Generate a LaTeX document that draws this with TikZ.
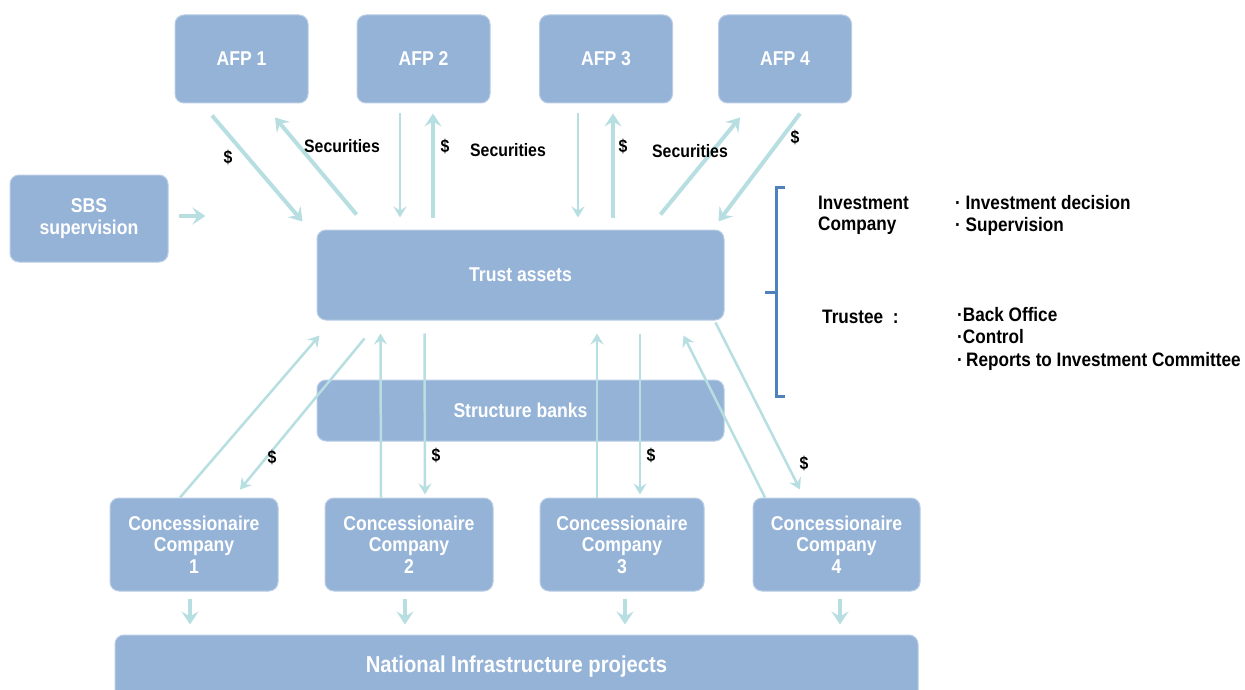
\documentclass[tikz,border=0pt]{standalone}
\usepackage{fontspec}
\setmainfont{Liberation Sans}[FakeStretch=0.88]
\usetikzlibrary{arrows.meta,calc}
\definecolor{boxblue}{HTML}{95B3D7}
\definecolor{boxedge}{HTML}{B9CDE5}
\definecolor{arrcyan}{HTML}{B7DEE0}
\definecolor{brblue}{HTML}{4F81BD}
\tikzset{
 box/.style={rectangle, rounded corners=9pt, fill=boxblue, draw=boxedge, line width=1pt, text=white,
   font=\bfseries\fontsize{20}{21.5}\selectfont, align=center, inner sep=0pt},
 fatarr/.style={draw=arrcyan, line width=4pt, -{Stealth[length=13pt,width=17pt,inset=5pt]}},
 slimarr/.style={draw=arrcyan, line width=2.5pt, -{Stealth[length=11pt,width=13pt,inset=4pt]}},
 lbl/.style={font=\bfseries\fontsize{18}{19}\selectfont, text=black, inner sep=0pt},
 side/.style={font=\bfseries\fontsize{19.5}{21}\selectfont, text=black, anchor=west, align=left, inner sep=0pt},
}
\begin{document}
\begin{tikzpicture}[x=1pt,y=-1pt]
\useasboundingbox (0,0) rectangle (1245,690);
\clip (0,0) rectangle (1245,690);
% boxes
\node[box, minimum width=133pt, minimum height=88pt] (afp1) at (241.5,59) {AFP 1};
\node[box, minimum width=133pt, minimum height=88pt] (afp2) at (423.5,59) {AFP 2};
\node[box, minimum width=133pt, minimum height=88pt] (afp3) at (606,59) {AFP 3};
\node[box, minimum width=133pt, minimum height=88pt] (afp4) at (785,59) {AFP 4};
\node[box, minimum width=158pt, minimum height=87pt] (sbs) at (89,218.5) {SBS\\supervision};
\node[box, minimum width=407pt, minimum height=90pt] (trust) at (520.5,275) {Trust assets};
\node[box, minimum width=407pt, minimum height=61pt] (banks) at (520.5,410.5) {Structure banks};
\node[box, minimum width=168pt, minimum height=93pt] (cc1) at (194,544.5) {Concessionaire\\Company\\1};
\node[box, minimum width=168pt, minimum height=93pt] (cc2) at (409,544.5) {Concessionaire\\Company\\2};
\node[box, minimum width=164pt, minimum height=93pt] (cc3) at (622,544.5) {Concessionaire\\Company\\3};
\node[box, minimum width=167pt, minimum height=93pt] (cc4) at (836.5,544.5) {Concessionaire\\Company\\4};
\node[box, minimum width=803pt, minimum height=64pt, font=\bfseries\fontsize{23}{24}\selectfont] (nat) at (516.5,667) {National Infrastructure projects};
% top arrows
\draw[fatarr] ($(afp1.south)+(-29.5,12)$) -- ($(trust.north west)+(-14,-8)$);
\draw[fatarr] ($(trust.north west)+(40,-15)$) -- ($(afp1.south)+(33.5,14)$);
\draw[slimarr] ($(afp2.south)+(-23.5,10)$) -- ($(trust.north)+(-120.5,-12)$);
\draw[fatarr] ($(trust.north)+(-87.5,-12)$) -- ($(afp2.south)+(9.5,10)$);
\draw[slimarr] ($(afp3.south)+(-28,10)$) -- ($(trust.north)+(57.5,-12)$);
\draw[fatarr] ($(trust.north)+(92.5,-12)$) -- ($(afp3.south)+(7,10)$);
\draw[fatarr] ($(trust.north east)+(-64,-15)$) -- ($(afp4.south)+(-45,14)$);
\draw[fatarr] ($(afp4.south)+(15,10)$) -- ($(trust.north east)+(-6,-8)$);
\draw[fatarr] ($(sbs.east)+(10,-2.5)$) -- ($(sbs.east)+(37,-2.5)$);
% bottom arrows
\draw[slimarr] ($(cc1.north)+(-14,0)$) -- ($(trust.south west)+(3,15)$);
\draw[slimarr] ($(trust.south west)+(48,18)$) -- ($(cc1.north)+(46,-8)$);
\draw[slimarr] ($(cc2.north)+(-28,0)$) -- ($(trust.south west)+(64,13)$);
\draw[slimarr] ($(trust.south west)+(108,13)$) -- ($(cc2.north)+(16,-3)$);
\draw[slimarr] ($(cc3.north)+(-25,0)$) -- ($(trust.south)+(76.5,13)$);
\draw[slimarr] ($(trust.south)+(119.5,13)$) -- ($(cc3.north)+(18,-3)$);
\draw[slimarr] ($(cc4.north)+(-71.5,0)$) -- ($(trust.south east)+(-41,15)$);
\draw[slimarr] ($(trust.south east)+(-9,2)$) -- ($(cc4.north)+(-36.5,-8)$);
% to national
\draw[fatarr] ($(cc1.south)+(-4,7)$) -- ($(cc1.south |- nat.north)+(-4,-10)$);
\draw[fatarr] ($(cc2.south)+(-4,7)$) -- ($(cc2.south |- nat.north)+(-4,-10)$);
\draw[fatarr] ($(cc3.south)+(3,7)$) -- ($(cc3.south |- nat.north)+(3,-10)$);
\draw[fatarr] ($(cc4.south)+(3.5,7)$) -- ($(cc4.south |- nat.north)+(3.5,-10)$);
% labels
\node[lbl] (d1) at (228,157) {\$};
\node[lbl] (s1) at (342,146) {Securities};
\node[lbl] (d2) at (445,146) {\$};
\node[lbl] (s2) at (508,150) {Securities};
\node[lbl] (d3) at (623,146) {\$};
\node[lbl] (s3) at (690,151) {Securities};
\node[lbl] (d4) at (795,137) {\$};
\node[lbl] (d5) at (272,457) {\$};
\node[lbl] (d6) at (436,455) {\$};
\node[lbl] (d7) at (651,455) {\$};
\node[lbl] (d8) at (804,463) {\$};
% bracket
\draw[brblue, line width=3pt] (785,187) -- (776,187) -- (776,396) -- (785,396);
\draw[brblue, line width=3pt] (776,292) -- (765,292);
% side texts
\node[side] (ic) at (818,215) {Investment\\Company};
\node[side] (ic1) at (955,203) {· Investment decision};
\node[side] (ic2) at (955,226) {· Supervision};
\node[side] (tr) at (822,317) {Trustee \ :};
\node[side] (tr1) at (957,315) {·Back Office};
\node[side] (tr2) at (957,337) {·Control};
\node[side] (tr3) at (957,361) {·\,Reports to Investment Committee};
\end{tikzpicture}
\end{document}
